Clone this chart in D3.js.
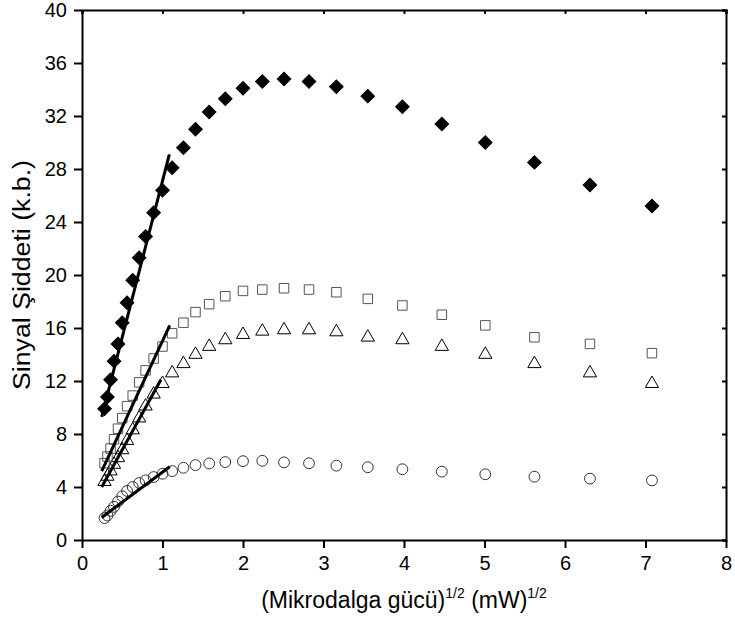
<!DOCTYPE html>
<html>
<head>
<meta charset="utf-8">
<script src="https://cdn.jsdelivr.net/npm/d3@7"></script>
<style>
body { margin: 0; background: #fff; }
text { font-family: "Liberation Sans", Arial, sans-serif; fill: #000; }
</style>
</head>
<body>
<div id="chart"></div>
<script>
// square root of microwave power, (mW)^1/2
const xValues = [0.28, 0.316, 0.355, 0.398, 0.447, 0.50, 0.56, 0.63, 0.71, 0.79, 0.89, 1.0, 1.12, 1.26, 1.41,
                 1.58, 1.78, 2.0, 2.24, 2.51, 2.82, 3.16, 3.55, 3.98, 4.47, 5.01, 5.62, 6.31, 7.08];
const diamondValues = [9.9, 10.8, 12.1, 13.5, 14.8, 16.4, 17.9, 19.6, 21.3, 22.9, 24.7, 26.4, 28.1, 29.6, 31.0,
                       32.3, 33.3, 34.1, 34.6, 34.8, 34.6, 34.2, 33.5, 32.7, 31.4, 30.0, 28.5, 26.8, 25.2];
const squareValues = [5.8, 6.3, 6.9, 7.6, 8.4, 9.2, 10.1, 10.9, 11.9, 12.8, 13.7, 14.6, 15.6, 16.4, 17.2,
                      17.8, 18.4, 18.8, 18.9, 19.0, 18.9, 18.7, 18.2, 17.7, 17.0, 16.2, 15.3, 14.8, 14.1];
const triangleValues = [4.4, 4.8, 5.2, 5.7, 6.2, 6.8, 7.5, 8.3, 9.2, 10.1, 11.0, 11.8, 12.6, 13.3, 14.0,
                        14.6, 15.1, 15.5, 15.75, 15.85, 15.85, 15.7, 15.3, 15.1, 14.6, 14.0, 13.3, 12.6, 11.8];
const circleValues = [1.65, 1.85, 2.2, 2.5, 2.9, 3.3, 3.7, 4.0, 4.3, 4.5, 4.75, 5.0, 5.2, 5.45, 5.65,
                      5.78, 5.88, 5.95, 5.98, 5.86, 5.79, 5.61, 5.49, 5.34, 5.16, 4.96, 4.78, 4.63, 4.5];

// linear fits at low power: [x, y] end points
const diamondFit = [[0.245, 9.3], [1.085, 29.1]];
const squareFit = [[0.245, 5.2], [1.09, 16.2]];
const triangleFit = [[0.245, 4.0], [0.98, 12.1]];
const circleFit = [[0.245, 1.7], [1.09, 5.53]];

const xTicks = [0, 1, 2, 3, 4, 5, 6, 7, 8];
const yTicks = [0, 4, 8, 12, 16, 20, 24, 28, 32, 36, 40];

const width = 735, height = 628;
const margin = { top: 10, right: 9, bottom: 88, left: 82 };
const innerW = width - margin.left - margin.right;
const innerH = height - margin.top - margin.bottom;

const xScale = d3.scaleLinear().domain([0, 8]).range([0, innerW]);
const yScale = d3.scaleLinear().domain([0, 40]).range([innerH, 0]);

const svg = d3.select('#chart').append('svg')
    .attr('width', width)
    .attr('height', height);

const g = svg.append('g')
    .attr('transform', 'translate(' + margin.left + ',' + margin.top + ')');

function styleAxis(sel) {
    sel.select('.domain').attr('stroke', '#000').attr('stroke-width', 2);
    sel.selectAll('.tick line').attr('stroke', '#000').attr('stroke-width', 2);
    sel.selectAll('.tick text').style('font-size', '20px');
}

// frame mirror axes (top and right), ticks inside
g.append('g')
    .attr('class', 'x axis top')
    .call(d3.axisBottom(xScale).tickValues(xTicks).tickSize(4).tickFormat(''))
    .call(styleAxis);
g.append('g')
    .attr('class', 'y axis right')
    .attr('transform', 'translate(' + innerW + ',0)')
    .call(d3.axisLeft(yScale).tickValues(yTicks).tickSize(4).tickFormat(''))
    .call(styleAxis);

g.append('g')
    .attr('class', 'x axis')
    .attr('transform', 'translate(0,' + innerH + ')')
    .call(d3.axisBottom(xScale).tickValues(xTicks).tickSize(8).tickPadding(8).tickSizeOuter(0))
    .call(styleAxis);
g.append('g')
    .attr('class', 'y axis')
    .call(d3.axisLeft(yScale).tickValues(yTicks).tickSize(8).tickPadding(7).tickSizeOuter(0))
    .call(styleAxis);

function drawSeries(values, symbolType, size, opts) {
    const pts = xValues.map((x, i) => [x, values[i]]);
    g.append('g').selectAll('path')
        .data(pts)
        .enter().append('path')
        .attr('d', d3.symbol().type(symbolType).size(size))
        .attr('transform', d => 'translate(' + xScale(d[0]) + ',' + yScale(d[1]) + ')' + (opts.rotate ? ' rotate(45)' : ''))
        .attr('fill', opts.fill)
        .attr('stroke', opts.stroke)
        .attr('stroke-width', opts.strokeWidth || 1);
}

drawSeries(circleValues, d3.symbolCircle, 92, { fill: 'none', stroke: '#333' });
drawSeries(triangleValues, d3.symbolTriangle, 76, { fill: 'none', stroke: '#000' });
drawSeries(squareValues, d3.symbolSquare, 90, { fill: 'none', stroke: '#555' });
drawSeries(diamondValues, d3.symbolSquare, 92, { fill: '#000', stroke: '#000', rotate: true });

const line = d3.line().x(d => xScale(d[0])).y(d => yScale(d[1]));
[diamondFit, squareFit, triangleFit, circleFit].forEach(f => {
    g.append('path')
        .attr('d', line(f))
        .attr('fill', 'none')
        .attr('stroke', '#000')
        .attr('stroke-width', 3);
});

// axis titles
const xTitle = svg.append('text')
    .attr('x', margin.left + innerW / 2)
    .attr('y', 608)
    .attr('text-anchor', 'middle')
    .style('font-size', '23px');
xTitle.append('tspan').text('(Mikrodalga gücü)');
xTitle.append('tspan').attr('dy', -10).style('font-size', '14px').text('1/2');
xTitle.append('tspan').attr('dy', 10).text(' (mW)');
xTitle.append('tspan').attr('dy', -10).style('font-size', '14px').text('1/2');

svg.append('text')
    .attr('transform', 'translate(30,' + (margin.top + innerH / 2) + ') rotate(-90)')
    .attr('text-anchor', 'middle')
    .style('font-size', '23px')
    .attr('textLength', 230)
    .attr('lengthAdjust', 'spacingAndGlyphs')
    .text('Sinyal Şiddeti (k.b.)');
</script>
</body>
</html>
